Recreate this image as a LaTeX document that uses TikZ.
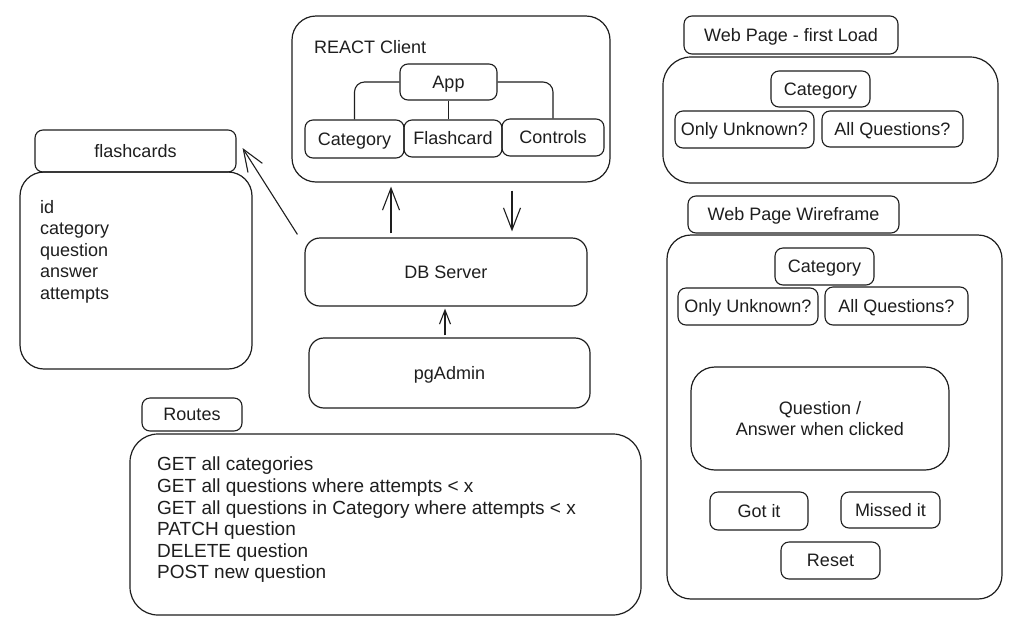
\documentclass[tikz,border=0pt]{standalone}
\usepackage{fontspec}
\setmainfont{Liberation Sans}
\usetikzlibrary{arrows.meta,calc}
\definecolor{ink}{HTML}{1E1E1E}
\begin{document}
\begin{tikzpicture}[x=1pt,y=-1pt,
  every node/.style={font=\fontsize{18}{21.5}\selectfont, text=ink},
  big/.style={draw=ink, line width=1.2pt, rounded corners=24pt, inner sep=0pt},
  mid/.style={draw=ink, line width=1.2pt, rounded corners=15pt, inner sep=0pt, text height=13pt, text depth=1pt},
  box/.style={draw=ink, line width=1.1pt, rounded corners=8pt, inner sep=0pt, text height=13pt, text depth=1pt},
  lbl/.style={inner sep=0pt},
  arr/.style={draw=ink, line width=1.1pt, -{Straight Barb[length=22pt,width=17pt,line width=1.1pt]}},
  sarr/.style={draw=ink, line width=1.1pt, -{Straight Barb[length=14pt,width=11pt,line width=1.1pt]}},
  wire/.style={draw=ink, line width=1.1pt, rounded corners=10pt}]
\useasboundingbox[fill=white] (0,0) rectangle (1023,630);

% REACT client
\node[big, minimum width=318pt, minimum height=166pt] (react) at (451,99) {};
\node[lbl, anchor=west] (reactlbl) at (314,47) {REACT Client};
\node[box, minimum width=97pt, minimum height=36pt] (app) at (448.5,82) {App};
\node[box, minimum width=99pt, minimum height=38pt] (cat) at (354.5,139) {Category};
\node[box, minimum width=98pt, minimum height=37pt] (flash) at (453,138.5) {Flashcard};
\node[box, minimum width=102pt, minimum height=37pt] (ctrl) at (553,137.5) {Controls};
\draw[wire] (app.west) -| (cat.north);
\draw[wire] (app.east) -| (ctrl.north);
\draw[wire] (app.south) -- (app.south |- flash.north);

% flashcards table
\node[box, minimum width=201pt, minimum height=42pt] (fchead) at (135.5,151) {flashcards};
\node[big, minimum width=232pt, minimum height=197pt] (fcbody) at (136,270.5) {};
\node[lbl, anchor=north west, align=left] (fields) at (40,200) {id\\category\\question\\answer\\attempts};

% servers
\node[mid, minimum width=282pt, minimum height=68pt] (db) at (446,272) {DB Server};
\node[mid, minimum width=281pt, minimum height=70pt] (pg) at (449.5,373) {pgAdmin};

\draw[arr] ($(db.north west)+(-7,-3)$) -- ($(fchead.east)+(6,-3)$);
\draw[arr] ($(db.north)+(-55,-4)$) -- ($(react.south)+(-60,4)$);
\draw[arr] ($(react.south)+(61,8)$) -- ($(db.north)+(66,-6)$);
\draw[sarr] ($(pg.north)+(-4.5,-2)$) -- ($(db.south)+(-1,2)$);

% routes
\node[box, minimum width=100pt, minimum height=33pt] (rthead) at (192,414.5) {Routes};
\node[big, rounded corners=28pt, minimum width=511pt, minimum height=181pt] (rtbody) at (385.5,524.5) {};
\node[lbl, anchor=north west, align=left, font=\fontsize{19}{21.6}\selectfont] (routes) at (157,457)
  {GET all categories\\GET all questions where attempts < x\\GET all questions in Category where attempts < x\\PATCH question\\DELETE question\\POST new question};

% web page first load
\node[box, minimum width=214pt, minimum height=38pt] (wp1head) at (791,35) {Web Page - first Load};
\node[big, rounded corners=28pt, minimum width=335pt, minimum height=126pt] (wp1) at (830.5,120) {};
\node[box, minimum width=99pt, minimum height=36pt] (wp1cat) at (820.5,89) {Category};
\node[box, minimum width=139pt, minimum height=37pt] (wp1only) at (744.5,129.5) {Only Unknown?};
\node[box, minimum width=141pt, minimum height=36pt] (wp1all) at (892.5,129) {All Questions?};

% web page wireframe
\node[box, minimum width=211pt, minimum height=37pt] (wp2head) at (793.5,214.5) {Web Page Wireframe};
\node[big, minimum width=335pt, minimum height=364pt] (wp2) at (834.5,417) {};
\node[box, minimum width=99pt, minimum height=37pt] (wp2cat) at (824.5,266.5) {Category};
\node[box, minimum width=140pt, minimum height=37pt] (wp2only) at (748,306.5) {Only Unknown?};
\node[box, minimum width=143pt, minimum height=38pt] (wp2all) at (896.5,306) {All Questions?};
\node[big, minimum width=258pt, minimum height=103pt, align=center] (qa) at (820,418.5) {Question /\\Answer when clicked};
\node[box, minimum width=98pt, minimum height=38pt] (got) at (759,511) {Got it};
\node[box, minimum width=99pt, minimum height=36pt] (missed) at (890.5,510) {Missed it};
\node[box, minimum width=99pt, minimum height=37pt] (reset) at (830.5,560.5) {Reset};
\end{tikzpicture}
\end{document}
